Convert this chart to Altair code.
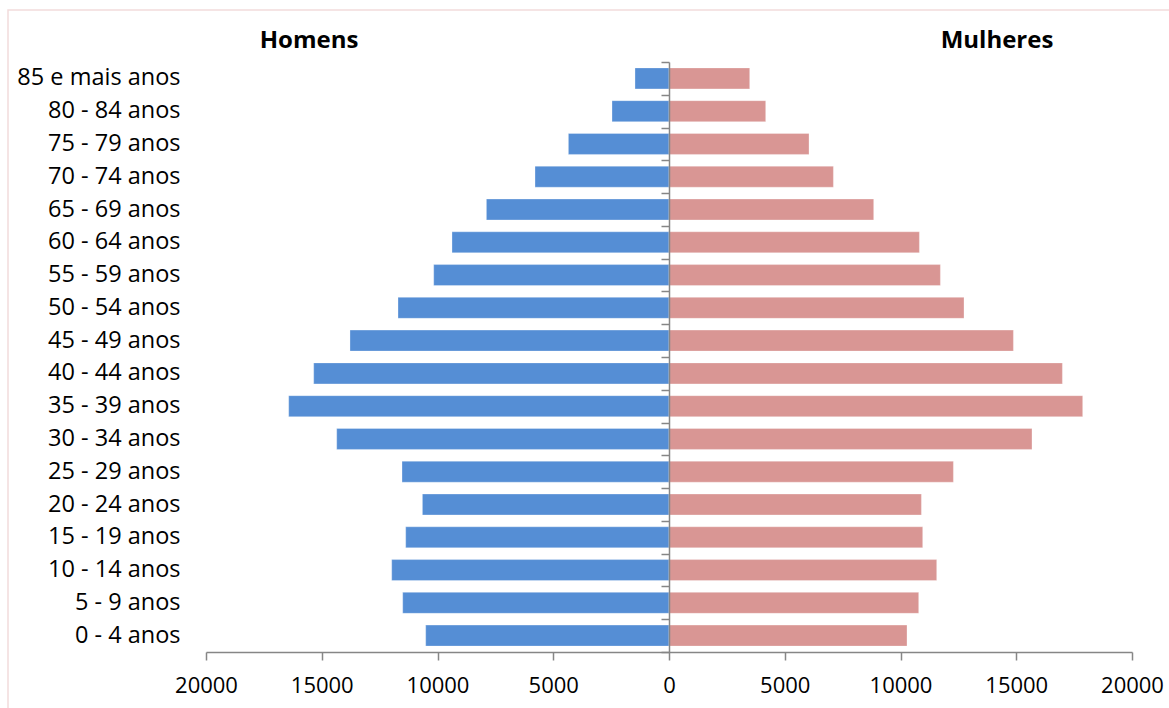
import altair as alt
import pandas as pd

# Age groups, youngest first
age_groups = [
    "0 - 4 anos", "5 - 9 anos", "10 - 14 anos", "15 - 19 anos", "20 - 24 anos",
    "25 - 29 anos", "30 - 34 anos", "35 - 39 anos", "40 - 44 anos", "45 - 49 anos",
    "50 - 54 anos", "55 - 59 anos", "60 - 64 anos", "65 - 69 anos", "70 - 74 anos",
    "75 - 79 anos", "80 - 84 anos", "85 e mais anos",
]
homens = [10510, 11503, 11978, 11374, 10652, 11533, 14354, 16428, 15348, 13780,
          11706, 10164, 9374, 7888, 5788, 4346, 2462, 1469]
mulheres = [10281, 10786, 11564, 10959, 10903, 12285, 15680, 17870, 16993, 14877,
            12743, 11723, 10816, 8842, 7101, 6048, 4177, 3486]
headers = ["Homens", "Mulheres"]
x_ticks = [-20000, -15000, -10000, -5000, 0, 5000, 10000, 15000, 20000]

BLUE = "#558ED5"
PINK = "#D99694"
AXIS_GREY = "#868686"
FONT = "Open Sans"

W, H = 926, 590
PAD_L, PAD_T, PAD_R, PAD_B = 206, 62, 37, 56

rows = []
for age, m, f in zip(age_groups, homens, mulheres):
    rows.append({"age": age, "sexo": headers[0], "value": -m})
    rows.append({"age": age, "sexo": headers[1], "value": f})
df = pd.DataFrame(rows)

order = list(reversed(age_groups))
y_scale = alt.Scale(domain=order, paddingInner=0, paddingOuter=0)
x_scale = alt.Scale(domain=[-20000, 20000], nice=False, zero=False)

bars = alt.Chart(df).mark_bar(
    height=alt.RelativeBandSize(0.64), stroke="white", strokeWidth=0.6, strokeOpacity=0.5
).encode(
    x=alt.X("value:Q", scale=x_scale, title=None,
            axis=alt.Axis(values=x_ticks, labelExpr="format(abs(datum.value), 'd')",
                          grid=False, domainColor=AXIS_GREY, tickColor=AXIS_GREY,
                          domainWidth=1.5, tickWidth=1.5, tickSize=8,
                          labelPadding=15, labelFontSize=22, labelColor="black",
                          labelFont=FONT, labelFlush=False)),
    y=alt.Y("age:N", sort=order, scale=y_scale, title=None,
            axis=alt.Axis(ticks=False, domain=False, labelPadding=26, labelFontSize=23.5,
                          labelColor="black", labelFont=FONT, labelAlign="right")),
    color=alt.Color("sexo:N", scale=alt.Scale(domain=headers, range=[BLUE, PINK]), legend=None),
)

# Vertical category axis running through zero
zero_axis = alt.Chart(df).mark_tick(opacity=0).encode(
    x=alt.value(0),
    y=alt.Y("age:N", sort=order, scale=y_scale, title=None,
            axis=alt.Axis(orient="left", offset=-(W / 2), labels=False, tickBand="extent",
                          tickSize=8, tickColor=AXIS_GREY, domainColor=AXIS_GREY,
                          tickWidth=1.5, domainWidth=1.5, grid=False, zindex=1)),
)

head_df = pd.DataFrame({"t": headers})
title_h = alt.Chart(head_df).transform_filter(alt.datum.t == headers[0]).mark_text(
    font=FONT, fontSize=24, fontWeight="bold", color="black", baseline="middle", align="center"
).encode(text="t:N", x=alt.value(103), y=alt.value(-21))
title_m = alt.Chart(head_df).transform_filter(alt.datum.t == headers[1]).mark_text(
    font=FONT, fontSize=24, fontWeight="bold", color="black", baseline="middle", align="center"
).encode(text="t:N", x=alt.value(791), y=alt.value(-21))

# Light outer frame of the chart area
frame = alt.Chart(head_df.head(1)).mark_rect(
    fill=None, stroke="#F2DCDB", strokeWidth=1.5
).encode(
    x=alt.value(8 - PAD_L), x2=alt.value(W + PAD_R + 20),
    y=alt.value(10 - PAD_T), y2=alt.value(H + PAD_B + 20),
)

chart = alt.layer(frame, bars, zero_axis, title_h, title_m).resolve_axis(
    y="independent"
).properties(
    width=W, height=H,
    autosize=alt.AutoSizeParams(type="none"),
    padding={"left": PAD_L, "top": PAD_T, "right": PAD_R, "bottom": PAD_B},
    background="white",
).configure(font=FONT).configure_view(strokeWidth=0, stroke="transparent")

chart.save("out.html", embed_options={"renderer": "svg", "actions": False})
